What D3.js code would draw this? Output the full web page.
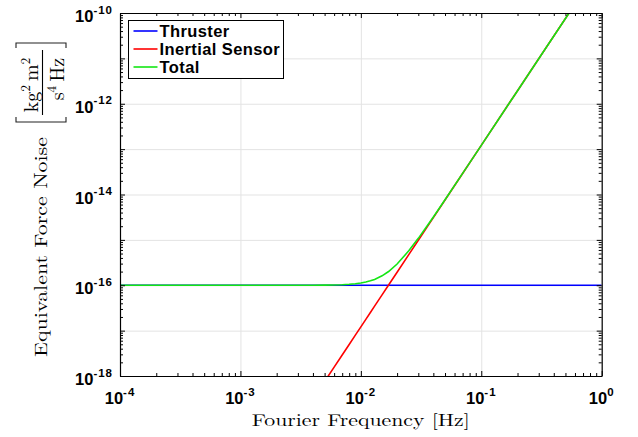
<!DOCTYPE html>
<html>
<head>
<meta charset="utf-8">
<script src="https://cdn.jsdelivr.net/npm/d3@7"></script>
<style>
  body { margin: 0; background: #fff; }
  .tick line { stroke: #000; }
  .domain { stroke: #000; }
</style>
</head>
<body>
<svg id="grafico"></svg>
<script>
// frequencias (Hz)
const frequencias = [1e-4, 2e-4, 5e-4, 1e-3, 2e-3, 3e-3, 4e-3, 5e-3, 6e-3, 7e-3, 8e-3, 9e-3,
  1e-2, 1.1e-2, 1.2e-2, 1.3e-2, 1.5e-2, 1.7e-2, 2e-2, 2.5e-2, 3e-2, 3.5e-2, 4e-2, 5e-2,
  7e-2, 0.1, 0.2, 0.3, 0.5, 0.7, 1];

const propulsor = [1e-16, 1e-16, 1e-16, 1e-16, 1e-16, 1e-16, 1e-16, 1e-16, 1e-16, 1e-16, 1e-16, 1e-16,
  1e-16, 1e-16, 1e-16, 1e-16, 1e-16, 1e-16, 1e-16, 1e-16, 1e-16, 1e-16, 1e-16, 1e-16,
  1e-16, 1e-16, 1e-16, 1e-16, 1e-16, 1e-16, 1e-16];

const sensorInercial = [1.21e-25, 1.94e-24, 7.56e-23, 1.21e-21, 1.94e-20, 9.80e-20, 3.10e-19, 7.56e-19,
  1.57e-18, 2.91e-18, 4.96e-18, 7.94e-18, 1.21e-17, 1.77e-17, 2.51e-17, 3.46e-17, 6.13e-17,
  1.01e-16, 1.94e-16, 4.73e-16, 9.80e-16, 1.82e-15, 3.10e-15, 7.56e-15, 2.91e-14, 1.21e-13,
  1.94e-12, 9.80e-12, 7.56e-11, 2.91e-10, 1.21e-9];

const total = [1.00e-16, 1.00e-16, 1.00e-16, 1.00e-16, 1.00e-16, 1.001e-16, 1.003e-16, 1.008e-16,
  1.016e-16, 1.029e-16, 1.050e-16, 1.079e-16, 1.121e-16, 1.177e-16, 1.251e-16, 1.346e-16, 1.613e-16,
  2.01e-16, 2.94e-16, 5.73e-16, 1.08e-15, 1.92e-15, 3.20e-15, 7.66e-15, 2.92e-14, 1.21e-13,
  1.94e-12, 9.80e-12, 7.56e-11, 2.91e-10, 1.21e-9];

const ticksX = [1e-4, 1e-3, 1e-2, 1e-1, 1];
const expoentesX = ['-4', '-3', '-2', '-1', '0'];
const ticksY = [1e-18, 1e-16, 1e-14, 1e-12, 1e-10];
const expoentesY = ['-18', '-16', '-14', '-12', '-10'];
const gradeY = [1e-18, 1e-17, 1e-16, 1e-15, 1e-14, 1e-13, 1e-12, 1e-11, 1e-10];

const series = [
  { nome: 'Thruster', valores: propulsor, cor: '#0000ff' },
  { nome: 'Inertial Sensor', valores: sensorInercial, cor: '#ff0000' },
  { nome: 'Total', valores: total, cor: '#14e614' }
];

const largura = 638, altura = 437;
const margem = { esquerda: 120, direita: 36.3, superior: 13, inferior: 61 };
const larguraPlotagem = largura - margem.esquerda - margem.direita;
const alturaPlotagem = altura - margem.superior - margem.inferior;

const svg = d3.select('#grafico').attr('width', largura).attr('height', altura);
const plotagem = svg.append('g').attr('transform', `translate(${margem.esquerda}, ${margem.superior})`);

const x = d3.scaleLog().domain([1e-4, 1]).range([0, larguraPlotagem]);
const y = d3.scaleLog().domain([1e-18, 1e-10]).range([alturaPlotagem, 0]);

// minor ticks 2..9 x 10^n
const menoresX = [];
for (let e = -4; e < 0; e++) for (let m = 2; m <= 9; m++) menoresX.push(m * Math.pow(10, e));
const menoresY = [];
for (let e = -18; e < -10; e++) for (let m = 2; m <= 9; m++) menoresY.push(m * Math.pow(10, e));

// grade
plotagem.append('g').attr('class', 'grade')
  .attr('transform', `translate(0, ${alturaPlotagem})`)
  .call(d3.axisBottom(x).tickValues(ticksX).tickSize(-alturaPlotagem).tickFormat(''))
  .call(g => g.select('.domain').remove())
  .call(g => g.selectAll('line').style('stroke', '#e3e3e3'));
plotagem.append('g').attr('class', 'grade')
  .call(d3.axisLeft(y).tickValues(gradeY).tickSize(-larguraPlotagem).tickFormat(''))
  .call(g => g.select('.domain').remove())
  .call(g => g.selectAll('line').style('stroke', '#e3e3e3'));

// curvas
plotagem.append('clipPath').attr('id', 'corte')
  .append('rect').attr('width', larguraPlotagem).attr('height', alturaPlotagem);

const linha = d3.line()
  .x(d => x(d[0]))
  .y(d => y(d[1]));

plotagem.append('g').attr('clip-path', 'url(#corte)')
  .selectAll('path')
  .data(series)
  .enter()
  .append('path')
  .attr('d', s => linha(frequencias.map((f, i) => [f, s.valores[i]])))
  .attr('fill', 'none')
  .attr('stroke', s => s.cor)
  .attr('stroke-width', 1.6);

// eixos (ticks para dentro, nos quatro lados)
function eixo(gerador, escala, maiores, menores, transform) {
  const g = plotagem.append('g').attr('transform', transform);
  g.call(gerador(escala).tickValues(maiores).tickSizeInner(-5).tickSizeOuter(0).tickFormat(''));
  g.append('g').call(gerador(escala).tickValues(menores).tickSizeInner(-3).tickSizeOuter(0).tickFormat(''))
    .call(s => s.select('.domain').remove());
  g.selectAll('.domain').style('stroke-width', 1.2);
  return g;
}
eixo(d3.axisBottom, x, ticksX, menoresX, `translate(0, ${alturaPlotagem})`);
eixo(d3.axisTop, x, ticksX, menoresX, 'translate(0, 0)');
eixo(d3.axisLeft, y, gradeY, menoresY, 'translate(0, 0)');
eixo(d3.axisRight, y, gradeY, menoresY, `translate(${larguraPlotagem}, 0)`);

// rotulos dos ticks
const fonteTick = '"Liberation Sans", Arial, Helvetica, sans-serif';
const rotX = plotagem.selectAll('.rotuloX')
  .data(ticksX)
  .enter()
  .append('text')
  .attr('x', d => x(d))
  .attr('y', alturaPlotagem + 28)
  .style('text-anchor', 'middle')
  .style('font-family', fonteTick)
  .style('font-weight', 'bold')
  .style('font-size', '16.5px');
rotX.append('tspan').text('10');
rotX.append('tspan').attr('dy', -8.5).style('font-size', '11.5px').style('letter-spacing', '1px').text((d, i) => expoentesX[i]);

const rotY = plotagem.selectAll('.rotuloY')
  .data(ticksY)
  .enter()
  .append('text')
  .attr('x', -7)
  .attr('y', d => y(d) + 9)
  .style('text-anchor', 'end')
  .style('font-family', fonteTick)
  .style('font-weight', 'bold')
  .style('font-size', '16.5px');
rotY.append('tspan').text('10');
rotY.append('tspan').attr('dy', -8.5).style('font-size', '11.5px').style('letter-spacing', '1px').text((d, i) => expoentesY[i]);

// titulos
const fonteSerif = '"Latin Modern Roman", "CMU Serif", "Liberation Serif", "DejaVu Serif", serif';

svg.append('text')
  .attr('x', margem.esquerda + larguraPlotagem / 2)
  .attr('y', 426)
  .style('text-anchor', 'middle')
  .style('font-family', fonteSerif)
  .style('font-size', '17px')
  .attr('textLength', 218)
  .attr('lengthAdjust', 'spacingAndGlyphs')
  .text('Fourier Frequency [Hz]');

// titulo Y rotacionado
const tituloY = svg.append('g').attr('transform', 'translate(47, 0) rotate(-90)');
tituloY.append('text')
  .attr('x', -357)
  .attr('y', 0)
  .style('font-family', fonteSerif)
  .style('font-size', '18px')
  .attr('textLength', 220)
  .attr('lengthAdjust', 'spacingAndGlyphs')
  .text('Equivalent Force Noise');

// colchetes
const colchete = (y0, lado) => {
  tituloY.append('path')
    .attr('d', `M${y0 + 5 * lado},${-31} L${y0},${-31} L${y0},${19} L${y0 + 5 * lado},${19}`)
    .attr('fill', 'none')
    .attr('stroke', '#222')
    .attr('stroke-width', 1.1);
};
colchete(-122, 1);
colchete(-43, -1);

// fracao
tituloY.append('line')
  .attr('x1', -115).attr('x2', -50)
  .attr('y1', -4.5).attr('y2', -4.5)
  .attr('stroke', '#000').attr('stroke-width', 1.1);

const numerador = tituloY.append('text')
  .attr('x', -85).attr('y', -9.5)
  .style('text-anchor', 'middle')
  .style('font-family', fonteSerif)
  .style('font-size', '20px');
numerador.append('tspan').text('kg');
numerador.append('tspan').attr('dy', -8).style('font-size', '13.5px').text('2');
numerador.append('tspan').attr('dy', 8).text('\u2009m');
numerador.append('tspan').attr('dy', -8).style('font-size', '13.5px').text('2');

const denominador = tituloY.append('text')
  .attr('x', -79).attr('y', 17)
  .style('text-anchor', 'middle')
  .style('font-family', fonteSerif)
  .style('font-size', '20px');
denominador.append('tspan').text('s');
denominador.append('tspan').attr('dy', -8).style('font-size', '13.5px').text('4');
denominador.append('tspan').attr('dy', 8).text('\u2009Hz');

// legenda
const legenda = svg.append('g').attr('transform', 'translate(128.5, 20.5)');
legenda.append('rect')
  .attr('width', 155).attr('height', 58)
  .attr('fill', '#fff').attr('stroke', '#000').attr('stroke-width', 1);
const itens = legenda.selectAll('.item')
  .data(series)
  .enter()
  .append('g')
  .attr('transform', (d, i) => `translate(0, ${10.5 + i * 18})`);
itens.append('line')
  .attr('x1', 5).attr('x2', 29)
  .attr('stroke', d => d.cor).attr('stroke-width', 1.6);
itens.append('text')
  .attr('x', 31).attr('y', 5.5)
  .style('font-family', fonteTick)
  .style('font-weight', 'bold')
  .style('font-size', '16.5px')
  .style('letter-spacing', '0.4px')
  .text(d => d.nome);
</script>
</body>
</html>
